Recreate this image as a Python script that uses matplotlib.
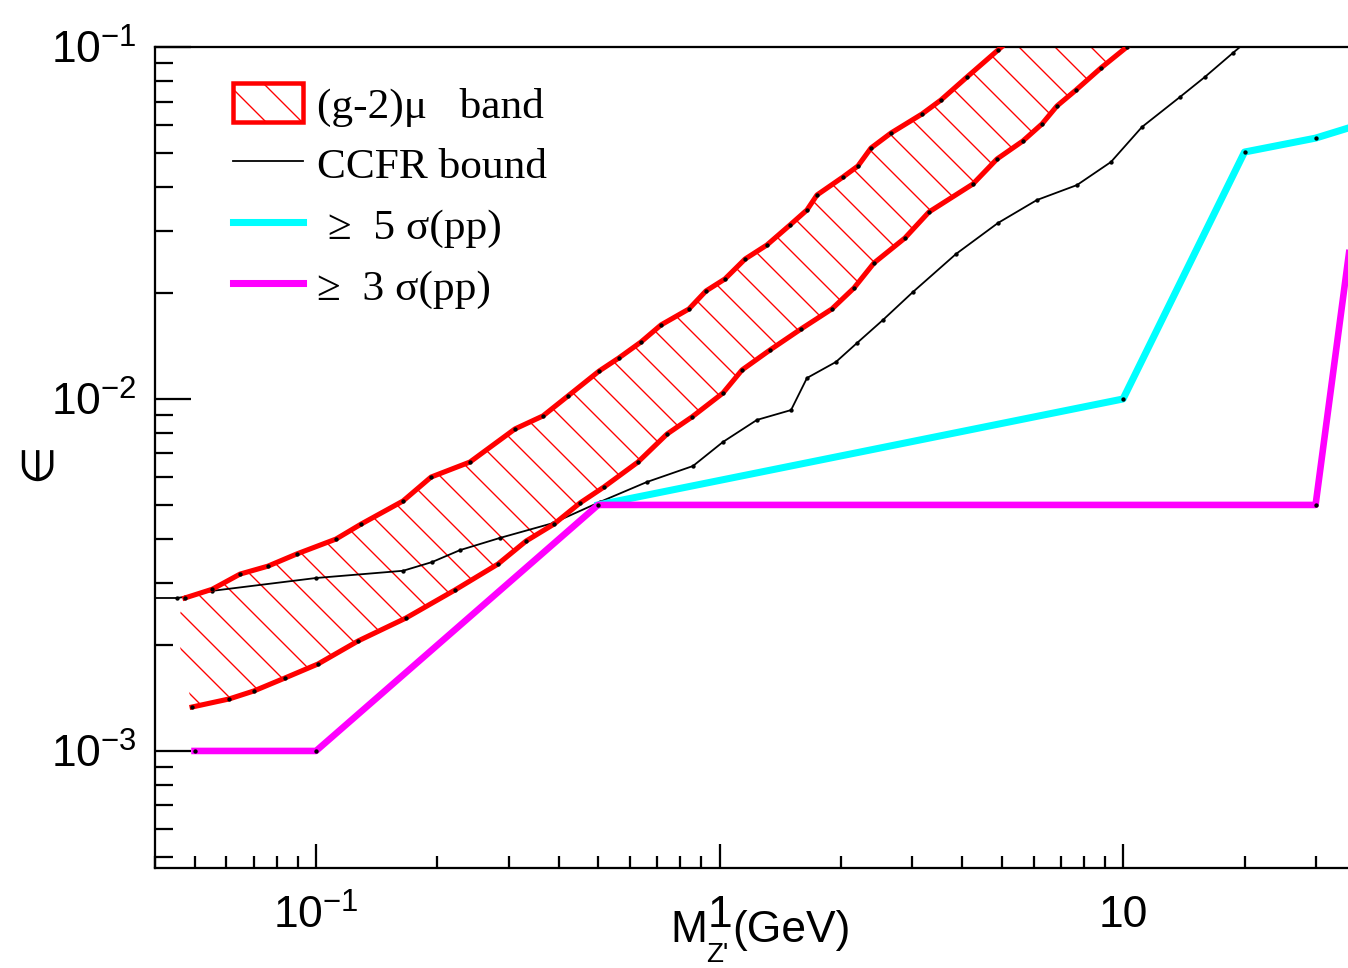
import numpy as np
import matplotlib
matplotlib.use('Agg')
import matplotlib.pyplot as plt
from matplotlib.patches import Patch
from matplotlib.lines import Line2D
from matplotlib.ticker import FixedLocator, FixedFormatter, LogLocator, NullFormatter

plt.rcParams['font.family'] = ['Liberation Sans', 'DejaVu Sans']
plt.rcParams['mathtext.fontset'] = 'custom'
plt.rcParams['mathtext.rm'] = 'Liberation Sans'
plt.rcParams['mathtext.it'] = 'Liberation Sans:italic'
plt.rcParams['mathtext.bf'] = 'Liberation Sans:bold'
plt.rcParams['hatch.linewidth'] = 0.9

# (g-2)mu band, upper edge
band_up_x = [0.0473, 0.0553, 0.0648, 0.0760, 0.0897, 0.1121, 0.1293, 0.1643, 0.1928, 0.2407,
             0.3112, 0.3651, 0.4212, 0.5028, 0.5631, 0.6389, 0.7160, 0.8400, 0.9255, 1.0316,
             1.157, 1.311, 1.495, 1.647, 1.744, 2.023, 2.203, 2.373, 2.660, 3.175,
             3.538, 4.105, 4.898, 5.5]
band_up_y = [0.00272, 0.00288, 0.00318, 0.00335, 0.00363, 0.00400, 0.00441, 0.00513, 0.00600, 0.00662,
             0.00822, 0.00895, 0.01020, 0.0120, 0.01308, 0.01452, 0.01623, 0.01802, 0.02027, 0.02193,
             0.02498, 0.02739, 0.03121, 0.03443, 0.03798, 0.04272, 0.04591, 0.05163, 0.05696, 0.06451,
             0.07070, 0.08218, 0.0980, 0.11]

# (g-2)mu band, lower edge
band_lo_x = [0.0493, 0.0609, 0.0702, 0.0838, 0.1012, 0.1271, 0.1671, 0.2210, 0.2825, 0.3316,
             0.3889, 0.4510, 0.5172, 0.6280, 0.7411, 0.8545, 1.020, 1.137, 1.334, 1.591,
             1.899, 2.154, 2.414, 2.881, 3.304, 4.246, 4.871, 5.648, 6.295, 6.859,
             7.645, 8.815, 10.22, 11.0]
band_lo_y = [0.001333, 0.001405, 0.001481, 0.001612, 0.001767, 0.002053, 0.002386, 0.002866, 0.003397, 0.003948,
             0.004412, 0.005064, 0.005623, 0.00662, 0.00795, 0.00889, 0.0104, 0.01209, 0.01378, 0.01580,
             0.01802, 0.02067, 0.02434, 0.02867, 0.03398, 0.04081, 0.04806, 0.05408, 0.06042, 0.06799,
             0.07546, 0.08718, 0.1000, 0.109]

# CCFR bound
ccfr_x = [0.035, 0.0452, 0.0473, 0.0553, 0.1, 0.1643, 0.1938, 0.2274, 0.2858, 0.3867,
          0.5056, 0.6609, 0.8594, 1.020, 1.238, 1.504, 1.647, 1.943, 2.191, 2.541,
          3.016, 3.855, 4.898, 6.117, 7.689, 9.333, 11.14, 13.84, 15.95, 18.72, 20.5]
ccfr_y = [0.00272, 0.00272, 0.00274, 0.00285, 0.00310, 0.00325, 0.00344, 0.00372, 0.00403, 0.00444,
          0.00510, 0.00581, 0.00645, 0.00755, 0.00872, 0.00930, 0.01147, 0.01274, 0.01442, 0.01677,
          0.02014, 0.02582, 0.03162, 0.03675, 0.04053, 0.04713, 0.05925, 0.07211, 0.08218, 0.0962, 0.105]

# >= 5 sigma (pp)
s5_x = [0.5, 10, 20, 30, 40]
s5_y = [0.005, 0.01, 0.0503, 0.0551, 0.061]

# >= 3 sigma (pp)
s3_x = [0.05, 0.1, 0.5, 30, 40]
s3_y = [0.001, 0.001, 0.005, 0.005, 0.06]

DPI = 108
fig = plt.figure(figsize=(1348 / DPI, 968 / DPI), dpi=DPI)
ax = fig.add_axes([155 / 1348, 100 / 968, 1193 / 1348, 821 / 968])
ax.set_xscale('log')
ax.set_yscale('log')

# hatched band
fx = band_up_x + band_lo_x[::-1] + [0.045]
fy = band_up_y + band_lo_y[::-1] + [0.00225]
ax.fill(fx, fy, facecolor='none', edgecolor='red', hatch='\\', lw=0, zorder=1)

dots = dict(marker='o', ms=1.9, mfc='k', mec='k')
ax.plot(ccfr_x, ccfr_y, color='k', lw=1.2, zorder=2, **dots)
ax.plot(band_up_x, band_up_y, color='red', lw=3.4, zorder=3, **dots)
ax.plot(band_lo_x, band_lo_y, color='red', lw=3.4, zorder=3, **dots)
ax.plot(s5_x, s5_y, color='#00ffff', lw=4.7, zorder=4, **dots)
ax.plot(s3_x, s3_y, color='#ff00ff', lw=4.4, zorder=5, **dots)

ax.set_xlim(0.0399, 36.1)
ax.set_ylim(4.65e-4, 0.1)

ax.xaxis.set_major_locator(FixedLocator([0.1, 1, 10]))
ax.xaxis.set_major_formatter(FixedFormatter([r'$10^{-1}$', '1', '10']))
ax.xaxis.set_minor_locator(LogLocator(base=10, subs=np.arange(2, 10)))
ax.xaxis.set_minor_formatter(NullFormatter())
ax.yaxis.set_major_locator(FixedLocator([1e-3, 1e-2, 1e-1]))
ax.yaxis.set_major_formatter(FixedFormatter([r'$10^{-3}$', r'$10^{-2}$', r'$10^{-1}$']))
ax.yaxis.set_minor_locator(LogLocator(base=10, subs=np.arange(2, 10)))
ax.yaxis.set_minor_formatter(NullFormatter())

ax.tick_params(which='both', direction='in', top=False, right=False, width=1.5, color='k')
ax.tick_params(axis='x', which='major', length=16, pad=18, labelsize=29.6)
ax.tick_params(axis='x', which='minor', length=8)
ax.tick_params(axis='y', which='major', length=23.7, pad=12, labelsize=29.6)
ax.tick_params(axis='y', which='minor', length=11.8)
for s in ['left', 'bottom', 'top']:
    ax.spines[s].set_linewidth(1.5)
ax.spines['right'].set_visible(False)

# axis labels
fig.text(37 / 1348, 1 - 462 / 968, '\u2208', rotation=90, fontsize=29.6,
         ha='center', va='center', family=['DejaVu Sans'])
fig.text(670 / 1348, 1 - 942 / 968, 'M', fontsize=29.6, ha='left', va='baseline')
fig.text(706 / 1348, 1 - 962 / 968, "Z'", fontsize=18.5, ha='left', va='baseline')
fig.text(732 / 1348, 1 - 942 / 968, '(GeV)', fontsize=29.6, ha='left', va='baseline')

# legend
handles = [Patch(facecolor='white', edgecolor='red', hatch='\\', lw=3.0),
           Line2D([], [], color='k', lw=1.2),
           Line2D([], [], color='#00ffff', lw=4.7),
           Line2D([], [], color='#ff00ff', lw=4.7)]
labels = ['(g-2)\u03bc   band', 'CCFR bound', ' \u2265  5 \u03c3(pp)', '\u2265  3 \u03c3(pp)']
ax.legend(handles, labels, loc='upper left', bbox_to_anchor=(0.0654, 0.9561),
          frameon=False, prop={'family': ['Liberation Serif', 'DejaVu Serif'], 'size': 28.9},
          handlelength=1.62, handleheight=1.02, handletextpad=0.32, labelspacing=0.4,
          borderpad=0, borderaxespad=0)

fig.savefig('out.png', dpi=DPI)
